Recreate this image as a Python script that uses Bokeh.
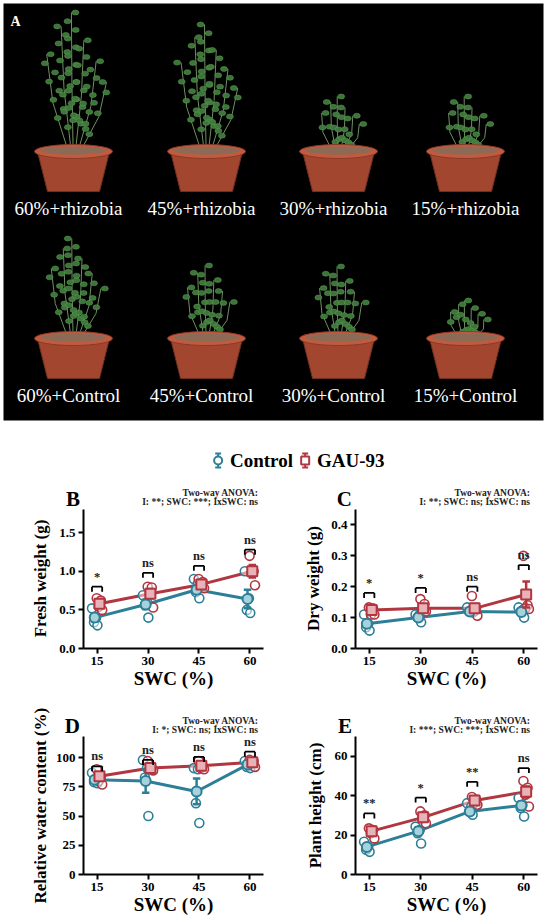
import numpy as np
from bokeh.plotting import figure
from bokeh.layouts import column, row
from bokeh.models import PrintfTickFormatter, Div
from bokeh.core.properties import value
from bokeh.embed import file_html
from bokeh.resources import INLINE

# ---------------- data ----------------
swc = [15, 30, 45, 60]

# Panel A labels
photo_top_labels = ["60%+rhizobia", "45%+rhizobia", "30%+rhizobia", "15%+rhizobia"]
photo_bottom_labels = ["60%+Control", "45%+Control", "30%+Control", "15%+Control"]
plant_h_top = [139, 127, 55, 55]      # apparent plant height above pot rim (px)
plant_h_bottom = [100, 73, 72, 38]

# B: fresh weight (g)
fw_ctrl_pts = [[0.52, 0.40, 0.34, 0.30], [0.69, 0.60, 0.56, 0.40], [0.90, 0.84, 0.73, 0.65], [1.00, 0.65, 0.50, 0.46]]
fw_gau_pts = [[0.65, 0.62, 0.54, 0.50], [0.80, 0.79, 0.71, 0.53], [0.90, 0.86, 0.80, 0.78], [1.20, 1.00, 0.98, 0.82]]
fw_ctrl_mean = [0.40, 0.57, 0.76, 0.64]
fw_ctrl_se = [0.05, 0.06, 0.05, 0.12]
fw_gau_mean = [0.58, 0.71, 0.83, 1.00]
fw_gau_se = [0.03, 0.06, 0.03, 0.08]
fw_sig = ["*", "ns", "ns", "ns"]
fw_sig_y = [0.80, 0.98, 1.07, 1.28]

# C: dry weight (g)
dw_ctrl_pts = [[0.11, 0.08, 0.069, 0.058], [0.11, 0.11, 0.10, 0.085], [0.133, 0.125, 0.12, 0.117], [0.133, 0.125, 0.12, 0.10]]
dw_gau_pts = [[0.133, 0.13, 0.11, 0.11], [0.16, 0.144, 0.13, 0.12], [0.17, 0.13, 0.12, 0.106], [0.30, 0.14, 0.13, 0.128]]
dw_ctrl_mean = [0.08, 0.10, 0.12, 0.118]
dw_ctrl_se = [0.01, 0.006, 0.004, 0.007]
dw_gau_mean = [0.125, 0.13, 0.13, 0.175]
dw_gau_se = [0.006, 0.008, 0.014, 0.042]
dw_sig = ["*", "*", "ns", "ns"]
dw_sig_y = [0.18, 0.196, 0.20, 0.27]

# D: relative water content (%)
rwc_ctrl_pts = [[87, 80, 79, 78], [98, 91, 83, 50], [91, 90, 61, 44], [97, 93, 92, 91]]
rwc_gau_pts = [[90, 84, 80, 77], [97, 91, 90, 89], [97, 93, 91, 90], [98, 97, 95, 92]]
rwc_ctrl_mean = [81, 80, 71, 94]
rwc_ctrl_se = [2, 10, 11, 1.5]
rwc_gau_mean = [84, 91, 93, 96]
rwc_gau_se = [3, 2, 1.5, 1.3]
rwc_sig = ["ns", "ns", "ns", "ns"]
rwc_sig_y = [92.5, 98, 100.5, 105]

# E: plant height (cm)
ph_ctrl_pts = [[16.6, 14, 12.6, 11.5], [24.3, 22.6, 20.9, 15.7], [36.2, 34.5, 32, 30.3], [38.8, 35.4, 33.7, 29.4]]
ph_gau_pts = [[23.4, 22.6, 20.9, 18.3], [32, 30, 28.5, 26], [39.3, 38, 36.2, 35.4], [47.4, 44, 40.5, 34.5]]
ph_ctrl_mean = [14, 22, 32, 35]
ph_ctrl_se = [1.2, 2, 1.3, 2]
ph_gau_mean = [22, 29, 37.5, 42]
ph_gau_se = [1.1, 1.3, 0.9, 2.7]
ph_sig = ["**", "*", "**", "ns"]
ph_sig_y = [31, 39, 47, 54]

anova_title = "Two-way ANOVA:"
anova_B = "I: **; SWC: ***; IxSWC: ns"
anova_C = "I: **; SWC: ns; IxSWC: ns"
anova_D = "I: *; SWC: ns; IxSWC: ns"
anova_E = "I: ***; SWC: ***; IxSWC: ns"

legend_labels = ["Control", "GAU-93"]

# ---------------- style ----------------
TEAL = "#2d7f97"
TEAL_L = "#a6d2dc"
RED = "#b1363f"
RED_L = "#e8b3b8"
SERIF = "Liberation Serif"
DODGE = 0.7
JIT = [-0.8, 0.4, -0.2, 0.8]


def blank(W, H, bg="white"):
    p = figure(width=W, height=H, x_range=(0, W), y_range=(0, H),
               output_backend="svg", toolbar_location=None, min_border=0,
               background_fill_color=bg, border_fill_color=bg)
    p.axis.visible = False
    p.grid.visible = False
    p.outline_line_color = None
    return p


def make_photo():
    W, H = 546, 423
    FW, FH = 540, 417
    p = figure(width=W, height=H, x_range=(0, FW), y_range=(0, FH),
               output_backend="svg", toolbar_location=None,
               min_border_left=3, min_border_right=3, min_border_top=3, min_border_bottom=3,
               background_fill_color="black", border_fill_color="white")
    p.axis.visible = False
    p.grid.visible = False
    p.outline_line_color = None
    col_x = [65, 198, 330, 462]
    for labels, ly, heights in [(photo_top_labels, 212, plant_h_top),
                                (photo_bottom_labels, 25, plant_h_bottom)]:
        rim_y = ly + 57
        bot_y = ly + 17
        for i, cx in enumerate(col_x):
            px = cx + 5 if i < 3 else cx
            h = heights[i]
            dxs = [-26, -12, -2, 10, 22, 32]
            fr = [0.7, 0.9, 1.0, 0.8, 0.65, 0.5]
            xs_l, ys_l, lx, lyy = [], [], [], []
            for dx, f in zip(dxs, fr):
                top_x = px + dx * (0.4 + h / 220)
                top_y = rim_y + h * f
                base_x = px + dx * 0.15
                xs_l.append([base_x, (base_x + top_x) / 2 + dx * 0.2, top_x])
                ys_l.append([rim_y - 4, rim_y + h * f * 0.5, top_y])
                n = max(3, int(h * f / 10))
                for k, t in enumerate(np.linspace(0.25, 1.0, n)):
                    side = 1 if k % 2 == 0 else -1
                    lx.append(base_x + (top_x - base_x) * t + side * 4)
                    lyy.append(rim_y + h * f * t)
            p.multi_line(xs_l, ys_l, line_color="#6d9160", line_width=1)
            p.ellipse(lx, lyy, width=7, height=5, fill_color="#3f7a3c",
                      line_color="#5f9e55", line_width=0.5, fill_alpha=0.95)
            p.patch([px - 36, px + 36, px + 26, px - 26], [rim_y, rim_y, bot_y, bot_y],
                    fill_color="#a3462f", line_color="#70301f")
            p.ellipse([px], [rim_y], width=78, height=14, fill_color="#c05b40",
                      line_color="#8a3a26")
            p.ellipse([px], [rim_y + 1], width=66, height=8, fill_color="#8c6a55",
                      line_color=None)
        p.text(col_x, [ly] * 4, text=labels, text_align="center",
               text_baseline="middle", text_color="white",
               text_font=value(SERIF), text_font_size="19px")
    p.text([7], [407], text=["A"], text_color="white", text_font=value(SERIF),
           text_font_style="bold", text_font_size="14px", text_baseline="top")
    return p


def make_legend():
    W, H = 550, 55
    p = blank(W, H)
    yc = 18
    for x0, col, mk, txt in [(217, TEAL, "circle", legend_labels[0]),
                             (305, RED, "square", legend_labels[1])]:
        p.segment([x0], [yc - 7], [x0], [yc + 7], line_color=col, line_width=2)
        p.segment([x0 - 3, x0 - 3], [yc - 7, yc + 7], [x0 + 3, x0 + 3], [yc - 7, yc + 7],
                  line_color=col, line_width=2)
        p.scatter([x0], [yc], marker=mk, size=8, fill_color="white",
                  line_color=col, line_width=2)
        p.text([x0 + 12], [yc], text=[txt], text_font=value(SERIF),
               text_font_style="bold", text_font_size="19px",
               text_baseline="middle", text_color="black")
    return p


def make_header(W, H, letter, anova, l_right, l_top, a_right, a_top):
    html = (
        f'<div style="position:relative;width:{W}px;height:{H}px;'
        f'font-family:\'{SERIF}\';color:#000;">'
        f'<span style="position:absolute;right:{l_right}px;top:{l_top}px;'
        f'font-weight:bold;font-size:21px;line-height:21px;">{letter}</span>'
        f'<div style="position:absolute;right:{a_right}px;top:{a_top}px;'
        f'font-weight:bold;font-size:9.5px;line-height:9px;text-align:right;'
        f'white-space:nowrap;color:#222;">{anova_title}<br>{anova}</div>'
        f'</div>'
    )
    return Div(text=html, width=W, height=H, styles={"margin": "0", "padding": "0"})


def make_ylabel(W, H, text, x, y):
    p = blank(W, H)
    p.text([x], [y], text=[text], angle=np.pi / 2, text_align="center",
           text_baseline="middle", text_font=value(SERIF), text_font_style="bold",
           text_font_size="17px", text_color="black")
    return p


def make_panel(y_end, yticks, fmt, c_pts, g_pts, c_mean, c_se, g_mean, g_se,
               sig, sig_y, W, H, bl, br, bt, bb):
    p = figure(width=W, height=H, x_range=(11, 64), y_range=(0, y_end),
               output_backend="svg", toolbar_location=None,
               min_border_left=bl, min_border_right=br,
               min_border_top=bt, min_border_bottom=bb)
    p.outline_line_color = None
    p.grid.visible = False
    p.xaxis.ticker = swc
    p.yaxis.ticker = yticks
    p.yaxis.formatter = PrintfTickFormatter(format=fmt)
    p.xaxis.axis_label = "SWC (%)"
    for ax in p.axis:
        ax.axis_line_width = 2
        ax.major_tick_line_width = 2
        ax.major_tick_out = 5
        ax.major_tick_in = 0
        ax.minor_tick_line_color = None
        ax.major_label_text_font = SERIF
        ax.major_label_text_font_style = "bold"
        ax.major_label_text_font_size = "13px"
        ax.major_label_text_color = "black"
        ax.axis_label_text_font = SERIF
        ax.axis_label_text_font_style = "bold"
        ax.axis_label_text_color = "black"
        ax.major_label_standoff = 3
    p.xaxis.axis_label_text_font_size = "19px"
    p.xaxis.axis_label_standoff = 0

    cx_m = [s - DODGE for s in swc]
    gx_m = [s + DODGE for s in swc]

    p.line(cx_m, c_mean, line_color=TEAL, line_width=3)
    p.line(gx_m, g_mean, line_color=RED, line_width=3)

    for xm, pts, col in [(cx_m, c_pts, TEAL), (gx_m, g_pts, RED)]:
        xs, ys = [], []
        for i, vals in enumerate(pts):
            for j, v in enumerate(vals):
                xs.append(xm[i] + JIT[j])
                ys.append(v)
        p.scatter(xs, ys, marker="circle", size=9, fill_color="white", fill_alpha=0.5,
                  line_color=col, line_width=1.6)

    for xm, mean, se, col, fill, mk in [(cx_m, c_mean, c_se, TEAL, TEAL_L, "circle"),
                                        (gx_m, g_mean, g_se, RED, RED_L, "square")]:
        lo = [m - s for m, s in zip(mean, se)]
        hi = [m + s for m, s in zip(mean, se)]
        p.segment(xm, lo, xm, hi, line_color=col, line_width=2.5)
        p.segment([x - 1.1 for x in xm], hi, [x + 1.1 for x in xm], hi,
                  line_color=col, line_width=2.5)
        p.segment([x - 1.1 for x in xm], lo, [x + 1.1 for x in xm], lo,
                  line_color=col, line_width=2.5)
        p.scatter(xm, mean, marker=mk, size=10, fill_color=fill,
                  line_color=col, line_width=2)

    drop = 5 * y_end / (H - bt - bb)
    x0 = [s - 1.5 for s in swc]
    x1 = [s + 1.5 for s in swc]
    p.segment(x0, sig_y, x1, sig_y, line_color="black", line_width=1.8)
    p.segment(x0, sig_y, x0, [y - drop for y in sig_y], line_color="black", line_width=1.8)
    p.segment(x1, sig_y, x1, [y - drop for y in sig_y], line_color="black", line_width=1.8)
    p.text(swc, sig_y, text=sig, text_align="center", text_baseline="bottom",
           y_offset=-3, text_font=value(SERIF), text_font_style="bold",
           text_font_size="12.5px", text_color="#222222")
    return p


photo = make_photo()
leg = make_legend()

# ---- row 1 (B, C): header 31 px + panel 191 px ----
pB = make_panel(1.8, [0, 0.5, 1.0, 1.5], "%.1f",
                fw_ctrl_pts, fw_gau_pts, fw_ctrl_mean, fw_ctrl_se, fw_gau_mean, fw_gau_se,
                fw_sig, fw_sig_y, 223, 191, 31, 12, 0, 52)
pC = make_panel(0.45, [0, 0.1, 0.2, 0.3, 0.4], "%.1f",
                dw_ctrl_pts, dw_gau_pts, dw_ctrl_mean, dw_ctrl_se, dw_gau_mean, dw_gau_se,
                dw_sig, dw_sig_y, 223, 191, 28, 13, 0, 52)
hB = make_header(223, 31, "B", anova_B, 195, 11, 17, 11)
hC = make_header(223, 31, "C", anova_C, 198, 11, 20, 11)
lB = make_ylabel(52, 222, "Fresh weight (g)", 40, 122)
lC = make_ylabel(52, 222, "Dry weight (g)", 38, 122)

# ---- row 2 (D, E): header 36 px + panel 184 px ----
pD = make_panel(118, [0, 25, 50, 75, 100], "%d",
                rwc_ctrl_pts, rwc_gau_pts, rwc_ctrl_mean, rwc_ctrl_se, rwc_gau_mean, rwc_gau_se,
                rwc_sig, rwc_sig_y, 223, 184, 31, 12, 0, 46)
pE = make_panel(70, [0, 20, 40, 60], "%d",
                ph_ctrl_pts, ph_gau_pts, ph_ctrl_mean, ph_ctrl_se, ph_gau_mean, ph_gau_se,
                ph_sig, ph_sig_y, 223, 184, 28, 13, 0, 46)
hD = make_header(223, 36, "D", anova_D, 195, 16, 17, 17)
hE = make_header(223, 36, "E", anova_E, 198, 16, 20, 17)
lD = make_ylabel(52, 220, "Relative water content (%)", 40, 115)
lE = make_ylabel(52, 220, "Plant height (cm)", 40, 115)

cellB = row(lB, column(hB, pB))
cellC = row(lC, column(hC, pC))
cellD = row(lD, column(hD, pD))
cellE = row(lE, column(hE, pE))

layout = column(photo, leg, row(cellB, cellC), row(cellD, cellE))
open("out.html", "w").write(file_html(layout, INLINE))
